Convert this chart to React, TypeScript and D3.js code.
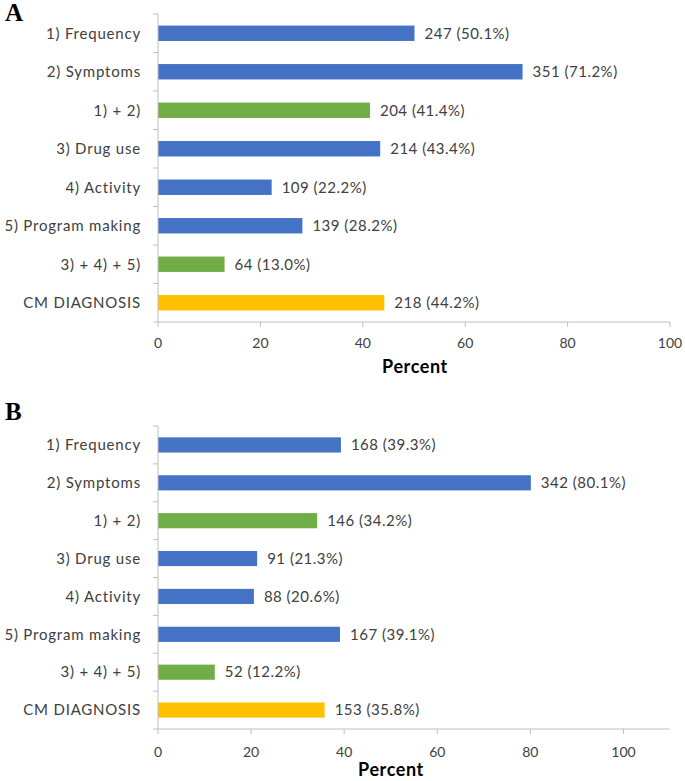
import React from "react";
import * as d3 from "d3";

const categories = [
  "1) Frequency",
  "2) Symptoms",
  "1) + 2)",
  "3) Drug use",
  "4) Activity",
  "5) Program making",
  "3) + 4) + 5)",
  "CM DIAGNOSIS",
];
const kinds = ["single", "single", "combo", "single", "single", "single", "combo", "diag"];
const countsA = [247, 351, 204, 214, 109, 139, 64, 218];
const percentA = [50.1, 71.2, 41.4, 43.4, 22.2, 28.2, 13.0, 44.2];
const countsB = [168, 342, 146, 91, 88, 167, 52, 153];
const percentB = [39.3, 80.1, 34.2, 21.3, 20.6, 39.1, 12.2, 35.8];
const xTicks = [0, 20, 40, 60, 80, 100];

const colors: Record<string, string> = {
  single: "#4472C4",
  combo: "#70AD47",
  diag: "#FFC000",
};

const FONT = "Lato, 'Open Sans', sans-serif";
const TEXT = "#404040";
const AXIS = "#BFBFBF";

type PanelProps = {
  letter: string;
  letterY: number;
  top: number;
  bottom: number;
  xMax: number;
  counts: number[];
  percents: number[];
  percentCenter: number;
  tickLabelY: number;
  titleY: number;
};

function Panel(p: PanelProps) {
  const left = 158;
  const right = 670;
  const x = d3.scaleLinear().domain([0, p.xMax]).range([left, right]);
  const y = d3.scaleBand<string>().domain(categories).range([p.top, p.bottom]).paddingInner(0.6).paddingOuter(0.3);
  const band = d3.scaleBand<string>().domain(categories).range([p.top, p.bottom]);
  const edges = categories.map((c) => band(c) as number).concat([p.bottom]);
  return (
    <g>
      <text x={5} y={p.letterY} fontFamily="'Liberation Serif', 'Times New Roman', serif" fontWeight="bold" fontSize={25} fill="#000">
        {p.letter}
      </text>
      {categories.map((c, i) => (
        <g key={c}>
          <rect
            x={x(0)}
            y={y(c)}
            width={x(p.percents[i]) - x(0)}
            height={y.bandwidth()}
            fill={colors[kinds[i]]}
          />
          <text
            x={x(p.percents[i]) + 10}
            y={(y(c) as number) + y.bandwidth() / 2}
            dy="0.35em"
            fontFamily={FONT}
            fontSize={15}
            letterSpacing={0.5}
            fill={TEXT}
          >
            {`${p.counts[i]} (${p.percents[i].toFixed(1)}%)`}
          </text>
          <text
            x={141}
            y={(band(c) as number) + band.bandwidth() / 2}
            dy="0.35em"
            textAnchor="end"
            fontFamily={FONT}
            fontSize={15}
            letterSpacing={0.8}
            fill={TEXT}
          >
            {c}
          </text>
        </g>
      ))}
      <line x1={left} x2={left} y1={p.top} y2={p.bottom} stroke={AXIS} strokeWidth={1} />
      {edges.map((e, i) => (
        <line key={i} x1={left - 5} x2={left} y1={e} y2={e} stroke={AXIS} strokeWidth={1} />
      ))}
      <line x1={left} x2={right} y1={p.bottom} y2={p.bottom} stroke={AXIS} strokeWidth={1} />
      {xTicks.map((t) => (
        <g key={t}>
          <line x1={x(t)} x2={x(t)} y1={p.bottom} y2={p.bottom + 5} stroke={AXIS} strokeWidth={1} />
          <text
            x={x(t)}
            y={p.tickLabelY}
            dy="0.35em"
            textAnchor="middle"
            fontFamily={FONT}
            fontSize={14}
            fill={TEXT}
          >
            {t}
          </text>
        </g>
      ))}
      <text
        x={p.percentCenter}
        y={p.titleY}
        dy="0.35em"
        textAnchor="middle"
        fontFamily={FONT}
        fontWeight="bold"
        fontSize={18}
        letterSpacing={0.6}
        fill="#000"
      >
        Percent
      </text>
    </g>
  );
}

export default function App() {
  return (
    <svg
      width={685}
      height={781}
      style={{ position: "absolute", left: 0, top: 0, background: "#fff" }}
    >
      <rect width={685} height={781} fill="#fff" />
      <Panel
        letter="A"
        letterY={21}
        top={14}
        bottom={322}
        xMax={100}
        counts={countsA}
        percents={percentA}
        percentCenter={415}
        tickLabelY={343}
        titleY={367}
      />
      <Panel
        letter="B"
        letterY={420}
        top={426}
        bottom={729}
        xMax={110}
        counts={countsB}
        percents={percentB}
        percentCenter={391}
        tickLabelY={752}
        titleY={770}
      />
    </svg>
  );
}
